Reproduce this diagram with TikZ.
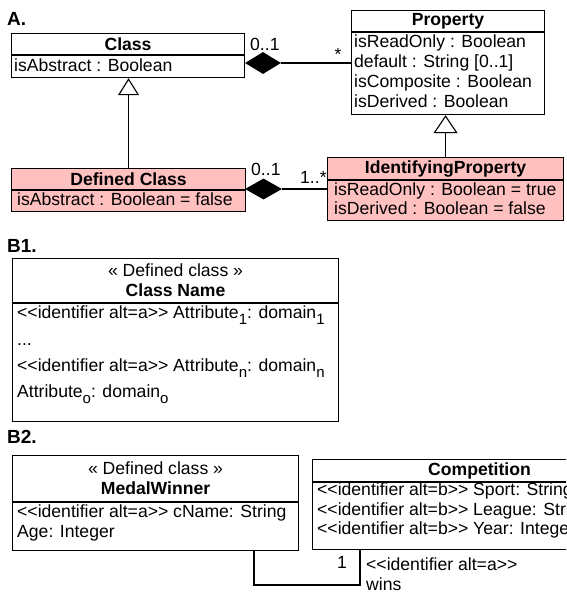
\documentclass[tikz,border=0pt]{standalone}
\usepackage{fontspec}
\setmainfont{Liberation Sans}[Ligatures=TeXOff]
\usetikzlibrary{arrows.meta,shapes.geometric,calc}
\definecolor{pinkfill}{RGB}{255,192,192}
\newcommand\subx[1]{\raisebox{-6.5pt}{\fontsize{15}{15}\selectfont #1}}
\begin{document}
\begin{tikzpicture}[x=1pt,y=-1pt,
  every node/.style={font=\fontsize{17.6}{20}\selectfont, inner sep=0pt},
  box/.style={draw, line width=1.1pt, anchor=north west, inner sep=0pt},
  pbox/.style={box, fill=pinkfill},
  hdr/.style={font=\fontsize{17.6}{20}\selectfont\bfseries},
  txt/.style={anchor=base west},
  lbl/.style={anchor=base west, font=\fontsize{19}{20}\selectfont\bfseries},
  conn/.style={line width=1.1pt},
  gen/.style={conn, -{Triangle[open, fill=white, length=17pt, width=21pt]}},
  genb/.style={conn, -{Triangle[open, fill=white, length=18pt, width=24pt]}},
  diam/.style={diamond, fill=black, inner sep=0pt, minimum width=36pt, minimum height=22pt}
]
\useasboundingbox (0,0) rectangle (566,595);
\fill[white] (0,0) rectangle (566,595);
\clip (0,0) rectangle (566,595);

% ---------------- A ----------------
\node[lbl] (labA) at (7,25) {A.};

\node[box, hdr, minimum width=233pt, minimum height=21pt] (clsH) at (11,33) {Class};
\node[box, minimum width=233pt, minimum height=22pt] (clsB) at (clsH.south west) {};
\node[txt] (clsT1) at (14,71) {isAbstract : Boolean};

\node[box, hdr, minimum width=193pt, minimum height=21pt] (propH) at (351,10) {Property};
\node[box, minimum width=193pt, minimum height=82pt] (propB) at (propH.south west) {};
\node[txt] (propT1) at (354,47) {isReadOnly : Boolean};
\node[txt] (propT2) at (354,67) {default : String [0..1]};
\node[txt] (propT3) at (354,87) {isComposite : Boolean};
\node[txt] (propT4) at (354,107) {isDerived : Boolean};

\node[pbox, hdr, minimum width=234pt, minimum height=21pt] (dcH) at (11,168) {Defined Class};
\node[pbox, minimum width=234pt, minimum height=21pt] (dcB) at (dcH.south west) {};
\node[txt] (dcT1) at (17,205) {isAbstract : Boolean = false};

\node[pbox, hdr, minimum width=236pt, minimum height=22pt] (ipH) at (327,157) {IdentifyingProperty};
\node[pbox, minimum width=236pt, minimum height=40pt] (ipB) at (ipH.south west) {};
\node[txt] (ipT1) at (334,195) {isReadOnly : Boolean = true};
\node[txt] (ipT2) at (334,214) {isDerived : Boolean = false};

\node[diam] (d1) at (263,63) {};
\draw[conn] (d1.east) -- (d1.east -| propB.west);
\node[diam, minimum width=37pt, minimum height=21pt] (d2) at (263.5,189) {};
\draw[conn] (d2.east) -- (d2.east -| ipB.west);
\draw[gen] (dcH.north) -- (dcH.north |- clsB.south);
\draw[genb] (ipH.north) -- (ipH.north |- propB.south);

\node[txt] (m1) at (250,50) {0..1};
\node[anchor=base] (m2) at (338,60) {*};
\node[txt] (m3) at (251,175) {0..1};
\node[txt] (m4) at (300,183) {1..*};

% ---------------- B1 ----------------
\node[lbl] (labB1) at (7,252) {B1.};
\node[box, align=center, minimum width=326pt, minimum height=44pt] (b1H) at (12,258) {« Defined class »\\\textbf{Class Name}};
\node[box, minimum width=326pt, minimum height=118pt] (b1B) at (b1H.south west) {};
\node[txt] (b1T1) at (17,318) {<<identifier alt=a>> Attribute\subx{1}: domain\subx{1}};
\node[txt] (b1T2) at (17,345) {...};
\node[txt] (b1T3) at (17,371) {<<identifier alt=a>> Attribute\subx{n}: domain\subx{n}};
\node[txt] (b1T4) at (17,397) {Attribute\subx{o}: domain\subx{o}};

% ---------------- B2 ----------------
\node[lbl] (labB2) at (7,443) {B2.};
\node[box, align=center, minimum width=286pt, minimum height=46pt] (mwH) at (12,455) {« Defined class »\\\textbf{MedalWinner}};
\node[box, minimum width=286pt, minimum height=48pt] (mwB) at (mwH.south west) {};
\node[txt] (mwT1) at (17,517) {<<identifier alt=a>> cName: String};
\node[txt] (mwT2) at (17,537) {Age: Integer};

\node[box, hdr, minimum width=334pt, minimum height=22pt] (cpH) at (312,459) {Competition};
\node[box, minimum width=334pt, minimum height=67pt] (cpB) at (cpH.south west) {};
\node[txt] (cpT1) at (317,495) {<<identifier alt=b>> Sport: String};
\node[txt] (cpT2) at (317,515) {<<identifier alt=b>> League: String};
\node[txt] (cpT3) at (317,534) {<<identifier alt=b>> Year: Integer};

\coordinate (k1) at (254,585);
\coordinate (k2) at (360,585);
\draw[conn] (mwB.south -| k1) -- (k1) -- (k2) -- (k2 |- cpB.south);
\node[anchor=base] (w1) at (342,568) {1};
\node[txt] (w2) at (366,570) {<<identifier alt=a>>};
\node[txt] (w3) at (366,590) {wins};
\end{tikzpicture}
\end{document}
